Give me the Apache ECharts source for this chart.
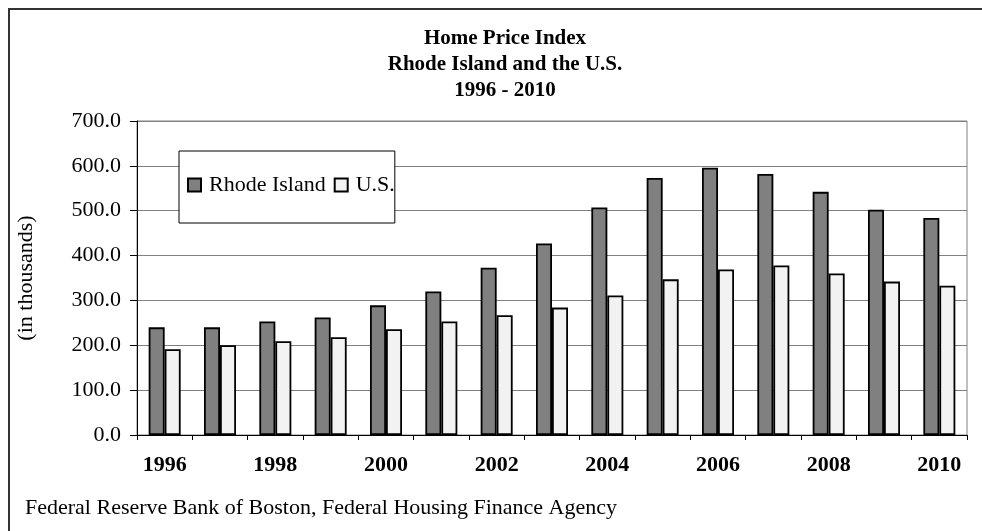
<!DOCTYPE html>
<html>
<head>
<meta charset="UTF-8">
<title>Home Price Index</title>
<script src="https://cdn.jsdelivr.net/npm/echarts@6/dist/echarts.min.js"></script>
<style>
  html, body { margin: 0; padding: 0; background: #fff; }
  #main { width: 982px; height: 531px; }
</style>
</head>
<body>
<div id="main"></div>
<script>
// data
var years = ['1996', '1997', '1998', '1999', '2000', '2001', '2002', '2003',
             '2004', '2005', '2006', '2007', '2008', '2009', '2010'];
var rhodeIsland = [240, 240, 253, 262, 289, 320, 373, 427, 507, 573, 596, 582, 542, 502, 484];
var usValues = [191, 200, 209, 218, 236, 253, 267, 284, 311, 347, 369, 378, 360, 342, 333];
var seriesNames = ['Rhode Island', 'U.S.'];

var serif = 'Liberation Serif';
var chart = echarts.init(document.getElementById('main'));

var option = {
  animation: false,
  backgroundColor: '#fff',
  title: {
    text: 'Home Price Index\nRhode Island and the U.S.\n1996 - 2010',
    left: 505,
    textAlign: 'center',
    top: 26,
    padding: 0,
    textStyle: {
      fontFamily: serif,
      fontWeight: 'bold',
      fontSize: 21,
      lineHeight: 26,
      color: '#000'
    }
  },
  legend: {
    data: seriesNames,
    left: 179,
    top: 151,
    orient: 'horizontal',
    padding: [23, 0, 27, 8],
    icon: 'rect',
    itemWidth: 13,
    itemHeight: 13,
    itemGap: 8,
    backgroundColor: '#fff',
    borderColor: '#000',
    borderWidth: 1,
    borderRadius: 0,
    textStyle: { fontFamily: serif, fontSize: 22, color: '#000', padding: [0, 0, 0, 3] }
  },
  grid: {
    left: 137,
    right: 15,
    top: 121,
    bottom: 96,
    show: true,
    borderColor: '#808080',
    borderWidth: 1
  },
  xAxis: {
    type: 'category',
    data: years,
    axisLine: { lineStyle: { color: '#000', width: 1 } },
    axisTick: { show: true, interval: 0, length: 5, lineStyle: { color: '#000' } },
    axisLabel: {
      interval: 1,
      margin: 19,
      fontFamily: serif,
      fontWeight: 'bold',
      fontSize: 22,
      color: '#000'
    }
  },
  yAxis: {
    type: 'value',
    min: 0,
    max: 700,
    interval: 100,
    name: '(in thousands)',
    nameLocation: 'middle',
    nameRotate: 90,
    nameGap: 100,
    nameTextStyle: { fontFamily: serif, fontSize: 22, color: '#000' },
    axisLine: { show: true, lineStyle: { color: '#000', width: 1 } },
    axisTick: { show: true, length: 7, lineStyle: { color: '#000' } },
    axisLabel: {
      margin: 16,
      fontFamily: serif,
      fontSize: 22,
      color: '#000',
      formatter: function (v) { return v.toFixed(1); }
    },
    splitLine: { lineStyle: { color: '#808080', width: 1 } }
  },
  series: [
    {
      name: seriesNames[0],
      type: 'bar',
      data: rhodeIsland,
      barWidth: 16,
      barGap: '0%',
      itemStyle: { color: '#808080', borderColor: '#000', borderWidth: 1.8 }
    },
    {
      name: seriesNames[1],
      type: 'bar',
      data: usValues,
      barWidth: 16,
      barGap: '0%',
      itemStyle: { color: '#f2f2f2', borderColor: '#000', borderWidth: 1.8 }
    }
  ],
  graphic: [
    {
      type: 'rect',
      shape: { x: 9, y: 9, width: 1000, height: 600 },
      style: { fill: null, stroke: '#333', lineWidth: 2 },
      silent: true
    },
    {
      type: 'text',
      left: 25,
      top: 497,
      style: {
        text: 'Federal Reserve Bank of Boston, Federal Housing Finance Agency',
        font: '22px "Liberation Serif"',
        fill: '#000'
      }
    }
  ]
};

chart.setOption(option);
</script>
</body>
</html>
